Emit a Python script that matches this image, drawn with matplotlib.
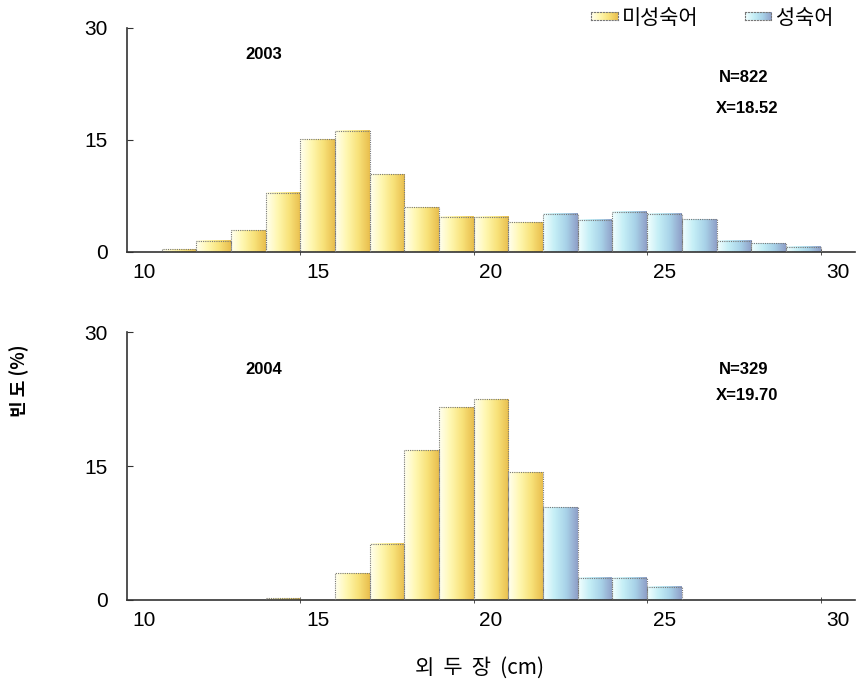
import numpy as np
import matplotlib
matplotlib.use("Agg")
import matplotlib.pyplot as plt
from matplotlib.colors import LinearSegmentedColormap

plt.rcParams['font.family'] = ['Liberation Sans', 'Noto Sans CJK KR', 'DejaVu Sans']

# length classes (cm, bar centres) and frequency (%)
len_2003 = [11, 12, 13, 14, 15, 16, 17, 18, 19, 20, 21, 22, 23, 24, 25, 26, 27, 28, 29]
freq_2003 = [0.4, 1.5, 2.9, 7.9, 15.1, 16.2, 10.4, 6.0, 4.7, 4.7, 4.0,
             5.1, 4.3, 5.4, 5.1, 4.4, 1.5, 1.2, 0.7]
mature_2003 = [False] * 11 + [True] * 8

len_2004 = [14, 16, 17, 18, 19, 20, 21, 22, 23, 24, 25]
freq_2004 = [0.2, 3.0, 6.3, 16.8, 21.6, 22.5, 14.3, 10.4, 2.5, 2.5, 1.5]
mature_2004 = [False] * 7 + [True] * 4

panels = [
    ("2003", "N=822", "X=18.52", len_2003, freq_2003, mature_2003),
    ("2004", "N=329", "X=19.70", len_2004, freq_2004, mature_2004),
]

legend_labels = ["미성숙어", "성숙어"]
x_ticks = [10, 15, 20, 25, 30]
y_ticks = [0, 15, 30]

cm_imm = LinearSegmentedColormap.from_list(
    "imm", ["#fffff0", "#fff7b0", "#f8e27a", "#e9bf4e"])
cm_mat = LinearSegmentedColormap.from_list(
    "mat", ["#f2ffff", "#c4eef6", "#a8d2e8", "#8f9fc8"])
grad = np.linspace(0, 1, 64).reshape(1, -1)

fig = plt.figure(figsize=(8.57, 6.92), dpi=100)
axes = [fig.add_axes([0.148, 0.636, 0.850, 0.324]),
        fig.add_axes([0.148, 0.133, 0.850, 0.387])]

for ax, (year, ntxt, xtxt, lens, freqs, mature) in zip(axes, panels):
    bars = ax.bar(lens, freqs, width=1.0, color="none",
                  edgecolor="#777777", linewidth=0.8, linestyle=(0, (1, 1)), zorder=3)
    for b, m in zip(bars, mature):
        x0, y0 = b.get_x(), b.get_y()
        ax.imshow(grad, cmap=cm_mat if m else cm_imm, aspect="auto",
                  extent=[x0, x0 + b.get_width(), y0, y0 + b.get_height()],
                  zorder=2, interpolation="bilinear")

    ax.set_xlim(9.5, 30.5)
    ax.set_ylim(0, 30)
    ax.set_aspect("auto")
    for s in ["top", "right"]:
        ax.spines[s].set_visible(False)
    for s in ["left", "bottom"]:
        ax.spines[s].set_color("#333333")
        ax.spines[s].set_linewidth(1.2)

    ax.set_xticks(x_ticks)
    ax.set_xticklabels([str(v) for v in x_ticks], fontsize=15)
    ax.tick_params(axis="x", length=0, pad=8)
    ax.set_xticks([14.5, 19.5, 24.5, 29.5], minor=True)
    ax.tick_params(axis="x", which="minor", direction="inout", length=5, color="#333333")
    ax.set_yticks(y_ticks)
    ax.set_yticklabels([str(v) for v in y_ticks], fontsize=15)
    ax.tick_params(axis="y", direction="in", length=4, pad=14, color="#333333")

    ax.text(0.188, 0.88 if year == "2003" else 0.86, year, transform=ax.transAxes,
            fontsize=12, fontweight="bold", va="center", ha="center")
    ax.text(0.813, 0.777 if year == "2003" else 0.86, ntxt, transform=ax.transAxes,
            fontsize=12, fontweight="bold", va="center", ha="left")
    ax.text(0.808, 0.64 if year == "2003" else 0.763, xtxt, transform=ax.transAxes,
            fontsize=12, fontweight="bold", va="center", ha="left")

# legend
for px, cmap, lab in [(0.690, cm_imm, legend_labels[0]), (0.869, cm_mat, legend_labels[1])]:
    lax = fig.add_axes([px, 0.971, 0.031, 0.011])
    lax.imshow(grad, cmap=cmap, aspect="auto", extent=[0, 1, 0, 1])
    lax.set_xticks([])
    lax.set_yticks([])
    for s in lax.spines.values():
        s.set_color("#777777")
        s.set_linestyle(":")
    fig.text(px + 0.036, 0.974, lab, fontsize=15, va="center", ha="left",
             family=["Noto Sans CJK KR", "DejaVu Sans"])

fig.text(0.022, 0.45, "빈 도 (%)", rotation=90, fontsize=13, fontweight="bold",
         va="center", ha="center", family=["Noto Sans CJK KR", "DejaVu Sans"])
fig.text(0.56, 0.035, "외  두  장  (cm)", fontsize=15, va="center", ha="center",
         family=["Noto Sans CJK KR", "DejaVu Sans"])

fig.savefig("out.png", dpi=100)
